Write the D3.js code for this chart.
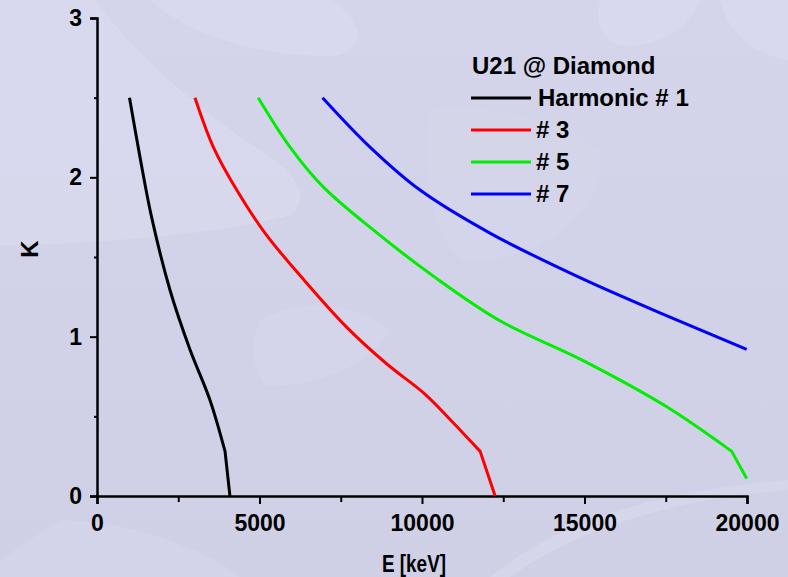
<!DOCTYPE html>
<html><head><meta charset="utf-8">
<script src="https://cdn.jsdelivr.net/npm/d3@7"></script>
<style>
html,body{margin:0;padding:0;background:#d1d1e7;}
svg{display:block;font-family:"Liberation Sans",Arial,sans-serif;}
</style></head><body>
<svg id="chart" width="788" height="577"></svg>
<script>
// ---- data ----
const seriesNames = ["Harmonic # 1", "# 3", "# 5", "# 7"];
const seriesColors = ["#000000", "#ff0000", "#00ee00", "#0000ff"];
const harmonic1 = [[1000,2.50],[1320,2.13],[1680,1.75],[2250,1.29],[2860,0.92],[3480,0.60],[3940,0.28],[4090,0.00]];
const harmonic3 = [[3015,2.50],[3580,2.19],[4300,1.92],[5170,1.65],[6350,1.36],[7680,1.06],[8910,0.83],[10090,0.64],[10960,0.46],[11790,0.28],[12250,0.00]];
const harmonic5 = [[4960,2.50],[5940,2.19],[6960,1.94],[8500,1.67],[10350,1.38],[12400,1.10],[14960,0.85],[17530,0.56],[19530,0.28],[19990,0.11]];
const harmonic7 = [[6940,2.50],[8400,2.19],[9940,1.92],[12090,1.65],[14760,1.38],[17320,1.15],[19990,0.92]];
const xMajorTicks = [0, 5000, 10000, 15000, 20000];
const xMinorTicks = [2500, 7500, 12500, 17500];
const yMajorTicks = [0, 1, 2, 3];
const yMinorTicks = [0.5, 1.5, 2.5];
const legendTitle = "U21 @ Diamond";
const xTitle = "E [keV]";
const yTitle = "K";

const series = [harmonic1, harmonic3, harmonic5, harmonic7];

const svg = d3.select("#chart");
const W = 788, H = 577;
const m = {left: 97, right: 41, top: 18, bottom: 81};

// background decoration (faint shapes)
const defs = svg.append("defs");
const grad = defs.append("linearGradient").attr("id", "bgGrad").attr("x1", 0).attr("y1", 0).attr("x2", 0).attr("y2", 1);
grad.append("stop").attr("offset", "0%").attr("stop-color", "#d4d4ea");
grad.append("stop").attr("offset", "100%").attr("stop-color", "#cfcfe5");
const bg = svg.append("g");
bg.append("rect").attr("width", W).attr("height", H).attr("fill", "url(#bgGrad)");
const light = "#dadaef";
bg.append("path").attr("d", "M0,0 L95,0 C140,60 200,110 260,150 C300,175 310,200 290,215 C220,235 80,245 0,245 Z").attr("fill", light).attr("opacity", 0.7);
bg.append("path").attr("d", "M150,0 L330,0 C360,20 370,40 340,55 C290,60 200,45 150,0 Z").attr("fill", light).attr("opacity", 0.7);
bg.append("path").attr("d", "M600,0 L700,0 C690,30 650,50 620,45 C600,40 595,20 600,0 Z").attr("fill", light).attr("opacity", 0.7);
bg.append("path").attr("d", "M720,0 L788,0 L788,60 C760,55 730,40 720,0 Z").attr("fill", light).attr("opacity", 0.7);
bg.append("path").attr("d", "M0,560 L60,520 C120,520 200,545 240,577 L0,577 Z").attr("fill", light).attr("opacity", 0.4);
bg.append("path").attr("d", "M490,577 C560,520 660,490 788,480 L788,490 C670,500 575,530 510,577 Z").attr("fill", light).attr("opacity", 0.6);
bg.append("path").attr("d", "M260,320 C300,300 350,300 390,330 C370,370 300,390 265,385 C250,365 250,340 260,320 Z").attr("fill", light).attr("opacity", 0.4);
bg.append("path").attr("d", "M430,110 C480,100 560,120 600,150 C610,220 520,270 460,260 C430,230 420,160 430,110 Z").attr("fill", light).attr("opacity", 0.35);

const x = d3.scaleLinear().domain([0, 20000]).range([m.left, W - m.right]);
const y = d3.scaleLinear().domain([0, 3]).range([H - m.bottom, m.top]);

const fontTick = 23;

// X axis
const gx = svg.append("g").attr("transform", `translate(0,${y(0)})`);
gx.call(d3.axisBottom(x).tickValues(xMajorTicks).tickSize(8).tickPadding(11).tickFormat(d3.format("d")));
gx.append("g").call(d3.axisBottom(x).tickValues(xMinorTicks).tickSize(6).tickFormat(""))
  .select(".domain").remove();
gx.selectAll(".domain").attr("stroke", "#000").attr("stroke-width", 2.5);
gx.selectAll(".tick line").attr("stroke", "#000").attr("stroke-width", 2);
gx.selectAll(".tick text").attr("fill", "#000").attr("font-size", fontTick).attr("font-weight", "bold")
  .attr("font-family", "Liberation Sans, Arial, sans-serif");

// Y axis
const gy = svg.append("g").attr("transform", `translate(${x(0)},0)`);
gy.call(d3.axisLeft(y).tickValues(yMajorTicks).tickSize(7).tickPadding(8).tickFormat(d3.format("d")));
gy.append("g").call(d3.axisLeft(y).tickValues(yMinorTicks).tickSize(3).tickFormat(""))
  .select(".domain").remove();
gy.selectAll(".domain").attr("stroke", "#000").attr("stroke-width", 2.5);
gy.selectAll(".tick line").attr("stroke", "#000").attr("stroke-width", 2);
gy.selectAll(".tick text").attr("fill", "#000").attr("font-size", fontTick).attr("font-weight", "bold")
  .attr("font-family", "Liberation Sans, Arial, sans-serif");

// Axis titles
svg.append("text").attr("transform", `translate(${(x(0) + x(20000)) / 2 - 8},572) scale(0.9,1.15)`)
  .attr("text-anchor", "middle").attr("font-size", 21).attr("font-weight", "bold")
  .attr("fill", "#000").text(xTitle);
svg.append("text").attr("transform", `translate(38,${y(1.55)}) rotate(-90)`)
  .attr("text-anchor", "middle").attr("font-size", 24).attr("font-weight", "bold")
  .attr("fill", "#000").text(yTitle);

// Lines: smooth through the upper points, straight final segment (sharp kink as in reference)
const smooth = d3.line().x(d => x(d[0])).y(d => y(d[1])).curve(d3.curveCatmullRom.alpha(0.5));
const pathFor = d => {
  const last = d[d.length - 1];
  return smooth(d.slice(0, -1)) + "L" + x(last[0]) + "," + y(last[1]);
};
svg.append("g").selectAll("path").data(series).join("path")
  .attr("d", pathFor).attr("fill", "none")
  .attr("stroke", (d, i) => seriesColors[i]).attr("stroke-width", 3)
  .attr("stroke-linejoin", "round");

// Legend
const lg = svg.append("g");
lg.append("text").attr("x", 472).attr("y", 74).attr("font-size", 24).attr("font-weight", "bold")
  .attr("fill", "#000").text(legendTitle);
const items = lg.selectAll("g.item").data(seriesNames).join("g").attr("class", "item")
  .attr("transform", (d, i) => `translate(0,${98 + i * 32})`);
items.append("line").attr("x1", 471).attr("x2", 531).attr("y1", 0).attr("y2", 0)
  .attr("stroke", (d, i) => seriesColors[i]).attr("stroke-width", 3);
items.append("text").attr("x", (d, i) => i === 0 ? 538 : 536).attr("y", 8)
  .attr("font-size", 24).attr("font-weight", "bold").attr("fill", "#000").text(d => d);
</script>
</body></html>
